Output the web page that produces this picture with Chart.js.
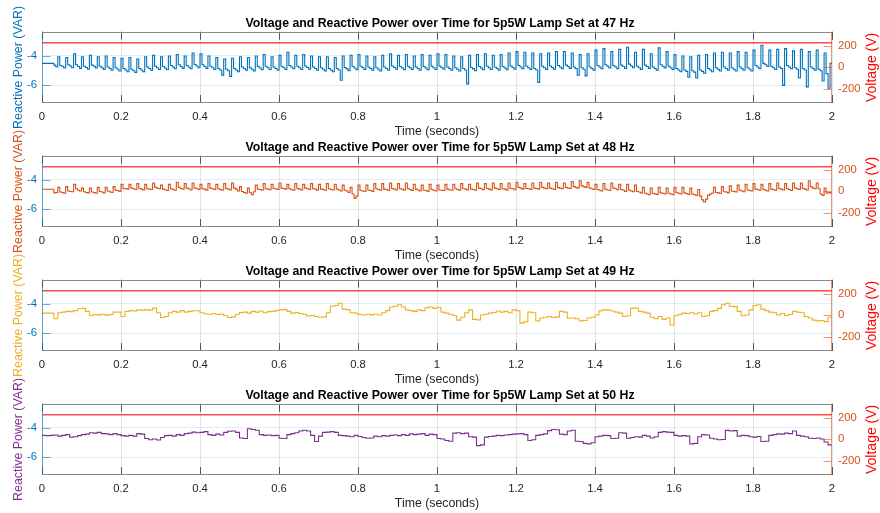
<!DOCTYPE html>
<html lang="en">
<head>
  <meta charset="UTF-8">
  <title>Voltage and Reactive Power over Time</title>
  <style>
    body { margin: 0; background: #fff; }
    #wrap { position: relative; width: 880px; height: 513px; overflow: hidden; }
    #wrap canvas { position: absolute; left: 0; }
  </style>
  <script src="https://cdn.jsdelivr.net/npm/chart.js"></script>
</head>
<body>
  <div id="wrap"></div>

  <script>
    // tick labels
    const timeTicks = [0, 0.2, 0.4, 0.6, 0.8, 1, 1.2, 1.4, 1.6, 1.8, 2];
    const leftTicks = [-6, -4];
    const rightTicks = [-200, 0, 200];

    // one subplot per lamp frequency
    const freqs = [47, 48, 49, 50];
    const voltage = [230, 230, 230, 230];
    const lineColors = ['#0072BD', '#D95319', '#EDB120', '#7E2F8E'];

    // reactive power (VAR), sampled evenly from 0 to 2 s
    const rp47 = [
      -4.5,-4.5,-4.5,-4.5, -4.5,-4.5,-4.62,-4.75, -4.05,-4.65,-4.7,-4.82, -4.1,-4.6,-4.68,-4.8, -3.85,-4.6,-4.72,-4.84,
      -4.05,-4.7,-4.78,-4.9, -3.95,-4.62,-4.7,-4.82, -4.05,-4.7,-4.8,-4.92, -4,-4.75,-4.85,-4.97, -4.1,-4.8,-4.9,-5.02,
      -4.15,-4.85,-4.95,-5.07, -4.1,-4.9,-5,-5.12, -4.2,-4.85,-4.95,-5.07, -4.05,-4.75,-4.85,-4.97, -3.95,-4.7,-4.8,-4.92,
      -4.05,-4.72,-4.82,-4.94, -4,-4.65,-4.75,-4.87, -3.9,-4.6,-4.72,-4.84, -4,-4.65,-4.75,-4.87, -3.8,-4.58,-4.68,-4.8,
      -3.85,-4.6,-4.72,-4.84, -4,-4.7,-4.8,-4.92, -4.1,-4.85,-4.95,-5.3, -4.2,-4.9,-5,-5.4, -4.15,-4.85,-4.95,-5.07,
      -4.05,-4.75,-4.85,-4.97, -4.1,-4.8,-4.9,-5.02, -4,-4.72,-4.82,-4.94, -3.9,-4.7,-4.8,-4.92, -4.05,-4.75,-4.85,-4.97,
      -3.95,-4.7,-4.8,-4.92, -3.75,-4.65,-4.75,-4.87, -3.95,-4.7,-4.8,-4.92, -3.9,-4.68,-4.78,-4.9, -4,-4.75,-4.85,-4.97,
      -4.05,-4.8,-4.9,-5.02, -4.05,-4.85,-4.95,-5.07, -4.1,-4.85,-4.95,-5.65, -4,-4.78,-4.88,-5, -3.95,-4.72,-4.82,-4.94,
      -3.9,-4.7,-4.8,-4.92, -4,-4.75,-4.85,-4.97, -4.05,-4.8,-4.9,-5.02, -3.95,-4.75,-4.85,-4.97, -3.85,-4.68,-4.78,-4.9,
      -3.95,-4.72,-4.82,-4.94, -3.9,-4.7,-4.8,-4.92, -4,-4.75,-4.85,-4.97, -3.9,-4.72,-4.82,-4.94, -3.95,-4.7,-4.8,-4.92,
      -3.85,-4.68,-4.78,-4.9, -3.9,-4.75,-4.85,-4.97, -4,-4.8,-4.9,-5.02, -4.05,-4.85,-4.95,-5.9, -3.95,-4.78,-4.88,-5,
      -3.9,-4.72,-4.82,-4.94, -3.85,-4.7,-4.8,-4.92, -3.95,-4.75,-4.85,-4.97, -3.9,-4.72,-4.82,-4.94, -3.8,-4.68,-4.78,-4.9,
      -3.7,-4.65,-4.75,-4.87, -3.75,-4.7,-4.8,-4.92, -3.8,-4.85,-4.95,-5.8, -3.85,-4.7,-4.8,-4.92, -3.8,-4.68,-4.78,-4.9,
      -3.7,-4.65,-4.75,-4.87, -3.7,-4.62,-4.72,-4.84, -3.8,-4.75,-4.85,-5.3, -3.9,-4.8,-4.9,-5.35, -3.85,-4.75,-4.85,-4.97,
      -3.6,-4.65,-4.75,-4.87, -3.5,-4.6,-4.7,-4.82, -3.7,-4.65,-4.75,-4.87, -3.55,-4.62,-4.72,-4.84, -3.4,-4.55,-4.68,-4.8,
      -3.75,-4.7,-4.8,-4.92, -3.55,-4.62,-4.72,-4.84, -3.85,-4.75,-4.85,-4.97, -3.45,-4.6,-4.7,-4.82, -3.7,-4.7,-4.8,-4.92,
      -3.9,-4.85,-4.95,-5.07, -4,-4.95,-5.05,-5.45, -4.05,-5,-5.1,-5.5, -3.95,-4.95,-5.05,-5.17, -3.9,-4.85,-4.95,-5.07,
      -3.8,-4.8,-4.9,-5.02, -3.75,-4.75,-4.85,-4.97, -3.8,-4.8,-4.9,-5.02, -3.7,-4.75,-4.85,-4.97, -3.75,-4.8,-4.9,-5.02,
      -3.6,-4.65,-4.75,-4.87, -3.27,-4.5,-4.6,-4.72, -3.6,-4.7,-4.8,-4.92, -3.55,-4.75,-4.85,-6, -3.5,-4.65,-4.75,-4.87,
      -3.65,-4.8,-4.9,-5.5, -3.55,-4.85,-4.95,-6.1, -3.7,-4.75,-4.85,-4.97, -3.6,-4.9,-5,-5.7, -3.8,-5.2,-6.2,-4.5,
      -4.5
    ];
    const rp48 = [
      -4.63,-4.63,-4.63,-4.63, -4.63,-4.63,-4.88,-4.85, -4.5,-4.82,-4.85,-4.9, -4.45,-4.75,-4.78,-4.8, -4.3,-4.6,-4.7,-4.75,
      -4.55,-4.8,-4.85,-4.88, -4.55,-4.82,-4.85,-4.9, -4.5,-4.78,-4.82,-4.88, -4.5,-4.75,-4.8,-4.85, -4.45,-4.7,-4.72,-4.78,
      -4.3,-4.6,-4.58,-4.62, -4.3,-4.55,-4.6,-4.65, -4.25,-4.58,-4.62,-4.68, -4.3,-4.6,-4.62,-4.65, -4.2,-4.5,-4.55,-4.6,
      -4.35,-4.62,-4.66,-4.72, -4.3,-4.6,-4.65,-4.7, -4.15,-4.5,-4.58,-4.62, -4.25,-4.55,-4.6,-4.68, -4.2,-4.55,-4.6,-4.65,
      -4.3,-4.6,-4.62,-4.7, -4.25,-4.55,-4.6,-4.65, -4.3,-4.6,-4.65,-4.7, -4.25,-4.58,-4.62,-4.68, -4.2,-4.55,-4.62,-4.75,
      -4.45,-4.78,-4.85,-4.9, -4.55,-4.85,-5,-4.8, -4.35,-4.62,-4.65,-4.7, -4.25,-4.6,-4.62,-4.66, -4.3,-4.58,-4.6,-4.65,
      -4.2,-4.55,-4.58,-4.62, -4.3,-4.6,-4.65,-4.7, -4.25,-4.58,-4.62,-4.68, -4.3,-4.55,-4.6,-4.65, -4.25,-4.6,-4.62,-4.7,
      -4.3,-4.62,-4.65,-4.7, -4.25,-4.6,-4.65,-4.68, -4.3,-4.62,-4.68,-4.75, -4.35,-4.7,-4.75,-4.85, -4.5,-4.95,-5.25,-5.1,
      -4.35,-4.72,-4.75,-4.78, -4.35,-4.7,-4.72,-4.78, -4.25,-4.6,-4.65,-4.7, -4.25,-4.62,-4.65,-4.72, -4.2,-4.58,-4.62,-4.68,
      -4.25,-4.6,-4.62,-4.7, -4.2,-4.6,-4.65,-4.72, -4.3,-4.62,-4.68,-4.75, -4.35,-4.7,-4.72,-4.78, -4.3,-4.65,-4.7,-4.75,
      -4.35,-4.68,-4.7,-4.72, -4.3,-4.62,-4.66,-4.7, -4.3,-4.6,-4.65,-4.7, -4.25,-4.6,-4.62,-4.68, -4.3,-4.62,-4.65,-4.7,
      -4.2,-4.55,-4.6,-4.66, -4.25,-4.58,-4.62,-4.68, -4.2,-4.55,-4.6,-4.65, -4.25,-4.6,-4.62,-4.7, -4.2,-4.58,-4.6,-4.66,
      -4.15,-4.5,-4.55,-4.62, -4.25,-4.58,-4.6,-4.65, -4.2,-4.55,-4.58,-4.62, -4.15,-4.5,-4.55,-4.6, -4.2,-4.55,-4.6,-4.65,
      -4.15,-4.52,-4.55,-4.6, -4.2,-4.5,-4.55,-4.58, -4.1,-4.45,-4.5,-4.55, -4.05,-4.4,-4.45,-4.5, -4.15,-4.55,-4.6,-4.65,
      -4.3,-4.65,-4.7,-4.75, -4.25,-4.62,-4.68,-4.72, -4.2,-4.55,-4.6,-4.66, -4.3,-4.65,-4.7,-4.78, -4.3,-4.7,-4.75,-4.8,
      -4.35,-4.78,-4.82,-4.88, -4.5,-4.9,-4.95,-5, -4.55,-4.92,-4.95,-4.98, -4.5,-4.88,-4.9,-4.95, -4.55,-4.9,-4.95,-5,
      -4.5,-4.85,-4.9,-4.95, -4.5,-4.88,-4.92,-4.98, -4.55,-4.95,-5,-5.05, -4.65,-5.1,-5.35,-5.5, -5.3,-5.05,-4.95,-4.9,
      -4.5,-4.85,-4.88,-4.92, -4.45,-4.8,-4.82,-4.88, -4.4,-4.75,-4.78,-4.82, -4.35,-4.7,-4.75,-4.8, -4.3,-4.68,-4.72,-4.75,
      -4.25,-4.62,-4.65,-4.7, -4.3,-4.65,-4.7,-4.75, -4.25,-4.62,-4.66,-4.7, -4.2,-4.58,-4.62,-4.68, -4.25,-4.6,-4.65,-4.72,
      -4.2,-4.55,-4.6,-4.65, -4.2,-4.58,-4.62,-4.68, -4.05,-4.45,-4.55,-4.6, -4.2,-4.6,-4.95,-5.05, -4.55,-4.9,-4.85,-4.88,
      -4.88
    ];
    const rp49 = [
      -4.62,-4.62,-4.62,-5,-4.6,-4.55,-4.5,-4.52,-4.45,-4.32,
      -4.3,-4.5,-4.78,-4.72,-4.74,-4.7,-4.76,-4.72,-4.55,-4.55,
      -4.85,-4.5,-4.45,-4.48,-4.4,-4.42,-4.38,-4.42,-4.28,-4.6,
      -4.92,-4.85,-4.6,-4.5,-4.55,-4.45,-4.55,-4.5,-4.46,-4.46,
      -4.6,-4.68,-4.7,-4.65,-4.72,-4.68,-4.8,-4.92,-4.88,-4.7,
      -4.58,-4.55,-4.62,-4.5,-4.55,-4.48,-4.6,-4.52,-4.5,-4.45,
      -4.4,-4.38,-4.5,-4.62,-4.58,-4.65,-4.7,-4.82,-4.78,-4.85,
      -4.9,-4.88,-4.6,-4.15,-4.1,-3.95,-4.35,-4.38,-4.6,-4.62,
      -4.72,-4.75,-4.7,-4.74,-4.68,-4.75,-4.6,-4.45,-4.2,-4.15,
      -4.05,-4.2,-4.4,-4.45,-4.5,-4.4,-4.45,-4.25,-4.2,-4.3,
      -4.22,-4.55,-4.62,-4.7,-4.78,-5.1,-4.9,-4.6,-4.4,-5.05,
      -5.08,-4.75,-4.7,-4.62,-4.58,-4.48,-4.55,-4.5,-4.6,-4.4,
      -4.45,-5.3,-5.2,-4.55,-4.6,-5.15,-4.95,-4.9,-4.85,-4.92,
      -4.88,-4.5,-4.55,-4.97,-4.95,-5,-5.15,-5.12,-4.95,-4.9,
      -4.75,-4.45,-4.4,-4.42,-4.48,-4.55,-4.62,-4.85,-4.8,-4.3,
      -4.28,-4.5,-4.55,-4.62,-4.9,-5,-4.85,-5.05,-4.95,-5.43,
      -4.8,-4.72,-4.62,-4.65,-4.6,-4.68,-4.6,-4.85,-4.8,-4.5,
      -4.45,-4.3,-4.05,-3.95,-4.15,-4.18,-4.5,-4.8,-4.75,-4.4,
      -4.1,-4.05,-4.35,-4.45,-4.55,-4.6,-4.75,-4.65,-4.78,-4.72,
      -4.5,-4.55,-4.6,-4.85,-4.95,-5.1,-5.15,-5.12,-5.2,-4.9,
      -4.9
    ];
    const rp50 = [
      -4.5,-4.52,-4.5,-4.48,-4.55,-4.5,-4.45,-4.62,-4.6,-4.52,
      -4.45,-4.42,-4.32,-4.35,-4.3,-4.38,-4.4,-4.45,-4.38,-4.45,
      -4.52,-4.55,-4.5,-4.55,-4.38,-4.42,-4.72,-4.8,-4.75,-4.82,
      -4.65,-4.52,-4.5,-4.55,-4.45,-4.5,-4.38,-4.35,-4.28,-4.32,
      -4.3,-4.25,-4.45,-4.5,-4.42,-4.48,-4.3,-4.22,-4.2,-4.3,
      -4.68,-4.72,-4.05,-4.1,-4.15,-4.45,-4.5,-4.48,-4.52,-4.5,
      -4.7,-4.72,-4.45,-4.38,-4.32,-4.2,-4.15,-4.2,-4.5,-4.92,
      -4.55,-4.3,-4.28,-4.25,-4.3,-4.5,-4.52,-4.55,-4.6,-4.5,
      -4.58,-4.65,-4.7,-4.68,-4.55,-4.6,-4.52,-4.55,-4.5,-4.48,
      -4.52,-4.45,-4.5,-4.4,-4.45,-4.42,-4.38,-4.5,-4.42,-4.45,
      -4.72,-4.75,-4.85,-4.9,-4.35,-4.32,-4.38,-4.35,-4.6,-4.62,
      -5.2,-5.15,-4.62,-4.58,-4.55,-4.5,-4.52,-4.48,-4.45,-4.42,
      -4.4,-4.38,-4.45,-4.85,-4.8,-4.5,-4.45,-4.4,-4.18,-4.1,
      -4.12,-4.42,-4.45,-4.2,-4.15,-4.9,-4.92,-5.05,-5.08,-5,
      -4.6,-4.55,-4.5,-4.52,-4.72,-4.7,-4.32,-4.35,-4.7,-4.65,
      -4.6,-4.62,-4.5,-4.55,-4.68,-4.6,-4.3,-4.25,-4.28,-4.3,
      -4.5,-4.55,-4.52,-4.55,-5.08,-5.05,-4.6,-4.45,-4.48,-4.7,
      -4.75,-4.8,-4.78,-4.16,-4.2,-4.18,-4.55,-4.5,-4.52,-4.6,
      -4.62,-4.58,-4.92,-4.9,-4.5,-4.45,-4.4,-4.42,-4.35,-4.38,
      -4.2,-4.5,-4.55,-4.6,-4.7,-4.72,-4.68,-4.75,-4.95,-5.15,
      -5.15
    ];
    const reactive = [rp47, rp48, rp49, rp50];

    const FONT = "'Liberation Sans', Arial, Helvetica, sans-serif";
    const canvasTops = [0, 124, 248, 372];

    function toPoints(vals) {
      const dt = 2 / (vals.length - 1);
      return vals.map((v, i) => ({ x: i * dt, y: v }));
    }

    // MATLAB-like box, inward ticks and rotated y labels
    const frame = {
      id: 'frame',
      afterDatasetsDraw(chart, args, opts) {
        const { ctx, chartArea: a, scales } = chart;
        const tl = 8;
        ctx.save();
        ctx.lineWidth = 1;

        ctx.strokeStyle = '#555';
        ctx.beginPath();
        timeTicks.forEach(v => {
          const x = Math.round(scales.x.getPixelForValue(v)) + 0.5;
          ctx.moveTo(x, a.bottom); ctx.lineTo(x, a.bottom - tl);
          ctx.moveTo(x, a.top); ctx.lineTo(x, a.top + tl);
        });
        ctx.stroke();

        ctx.strokeStyle = '#8a8a8a';
        ctx.beginPath();
        ctx.moveTo(a.left, Math.round(a.top) + 0.5); ctx.lineTo(a.right, Math.round(a.top) + 0.5);
        ctx.moveTo(a.left, Math.round(a.bottom) - 0.5); ctx.lineTo(a.right, Math.round(a.bottom) - 0.5);
        ctx.stroke();

        ctx.strokeStyle = 'rgba(0,114,189,0.6)';
        ctx.beginPath();
        const lx = Math.round(a.left) + 0.5;
        ctx.moveTo(lx, a.top); ctx.lineTo(lx, a.bottom);
        leftTicks.forEach(v => {
          const y = Math.round(scales.y.getPixelForValue(v)) + 0.5;
          ctx.moveTo(lx, y); ctx.lineTo(lx + tl, y);
        });
        ctx.stroke();

        ctx.strokeStyle = 'rgba(217,83,25,0.6)';
        ctx.beginPath();
        const rx = Math.round(a.right) - 0.5;
        ctx.moveTo(rx, a.top); ctx.lineTo(rx, a.bottom);
        rightTicks.forEach(v => {
          const y = Math.round(scales.y1.getPixelForValue(v)) + 0.5;
          ctx.moveTo(rx, y); ctx.lineTo(rx - tl, y);
        });
        ctx.stroke();
        ctx.restore();
      },
      afterDraw(chart, args, opts) {
        const { ctx, chartArea: a } = chart;
        const cy = (a.top + a.bottom) / 2;
        ctx.save();
        ctx.textAlign = 'center';
        ctx.textBaseline = 'middle';

        ctx.translate(18.5, cy);
        ctx.rotate(-Math.PI / 2);
        ctx.font = '12.4px ' + FONT;
        ctx.fillStyle = opts.color;
        ctx.fillText('Reactive Power (VAR)', 0, 0);
        ctx.restore();

        ctx.save();
        ctx.textAlign = 'center';
        ctx.textBaseline = 'middle';
        ctx.translate(872.5, cy);
        ctx.rotate(-Math.PI / 2);
        ctx.font = '14px ' + FONT;
        ctx.fillStyle = '#ff0000';
        ctx.fillText('Voltage (V)', 0, 0);
        ctx.restore();
      }
    };

    const wrap = document.getElementById('wrap');

    freqs.forEach((hz, k) => {
      const canvas = document.createElement('canvas');
      canvas.width = 880;
      canvas.height = 140;
      canvas.style.top = canvasTops[k] + 'px';
      wrap.appendChild(canvas);

      new Chart(canvas.getContext('2d'), {
        type: 'line',
        data: {
          datasets: [
            {
              data: toPoints(reactive[k]),
              yAxisID: 'y',
              borderColor: lineColors[k],
              borderWidth: 1.1,
              pointRadius: 0,
              stepped: true,
              fill: false
            },
            {
              data: [{ x: 0, y: voltage[k] }, { x: 2, y: voltage[k] }],
              yAxisID: 'y1',
              borderColor: 'rgba(255,0,0,0.7)',
              borderWidth: 1.4,
              pointRadius: 0,
              fill: false
            }
          ]
        },
        plugins: [frame],
        options: {
          responsive: false,
          animation: false,
          devicePixelRatio: 1,
          layout: { padding: 0 },
          plugins: {
            legend: { display: false },
            tooltip: { enabled: false },
            frame: { color: lineColors[k] },
            title: {
              display: true,
              text: 'Voltage and Reactive Power over Time for 5p5W Lamp Set at ' + hz + ' Hz',
              color: '#000',
              font: { family: FONT, size: 12.3, weight: 'bold' },
              padding: { top: 16, bottom: 1 }
            }
          },
          scales: {
            x: {
              type: 'linear',
              min: 0,
              max: 2,
              afterBuildTicks: s => { s.ticks = timeTicks.map(v => ({ value: v })); },
              afterFit: s => { s.height = 37; },
              ticks: {
                color: '#262626',
                font: { family: FONT, size: 11.3 },
                padding: 7,
                maxRotation: 0,
                callback: v => String(+v.toFixed(1))
              },
              grid: { color: 'rgba(38,38,38,0.12)', drawTicks: false },
              border: { display: false },
              title: {
                display: true,
                text: 'Time (seconds)',
                color: '#262626',
                font: { family: FONT, size: 12.3 },
                padding: { top: 0, bottom: 1.5 }
              }
            },
            y: {
              position: 'left',
              min: -7.2,
              max: -2.35,
              afterBuildTicks: s => { s.ticks = leftTicks.map(v => ({ value: v })); },
              afterFit: s => { s.width = 42; },
              ticks: {
                color: '#0072BD',
                font: { family: FONT, size: 11.3 },
                padding: 5,
                callback: v => String(v)
              },
              grid: { color: 'rgba(0,114,189,0.12)', drawTicks: false },
              border: { display: false }
            },
            y1: {
              position: 'right',
              min: -332,
              max: 332,
              afterBuildTicks: s => { s.ticks = rightTicks.map(v => ({ value: v })); },
              afterFit: s => { s.width = 48; },
              ticks: {
                color: '#D95319',
                font: { family: FONT, size: 11.3 },
                padding: 6,
                callback: v => String(v)
              },
              grid: { display: false, drawTicks: false },
              border: { display: false }
            }
          }
        }
      });
    });
  </script>
</body>
</html>
